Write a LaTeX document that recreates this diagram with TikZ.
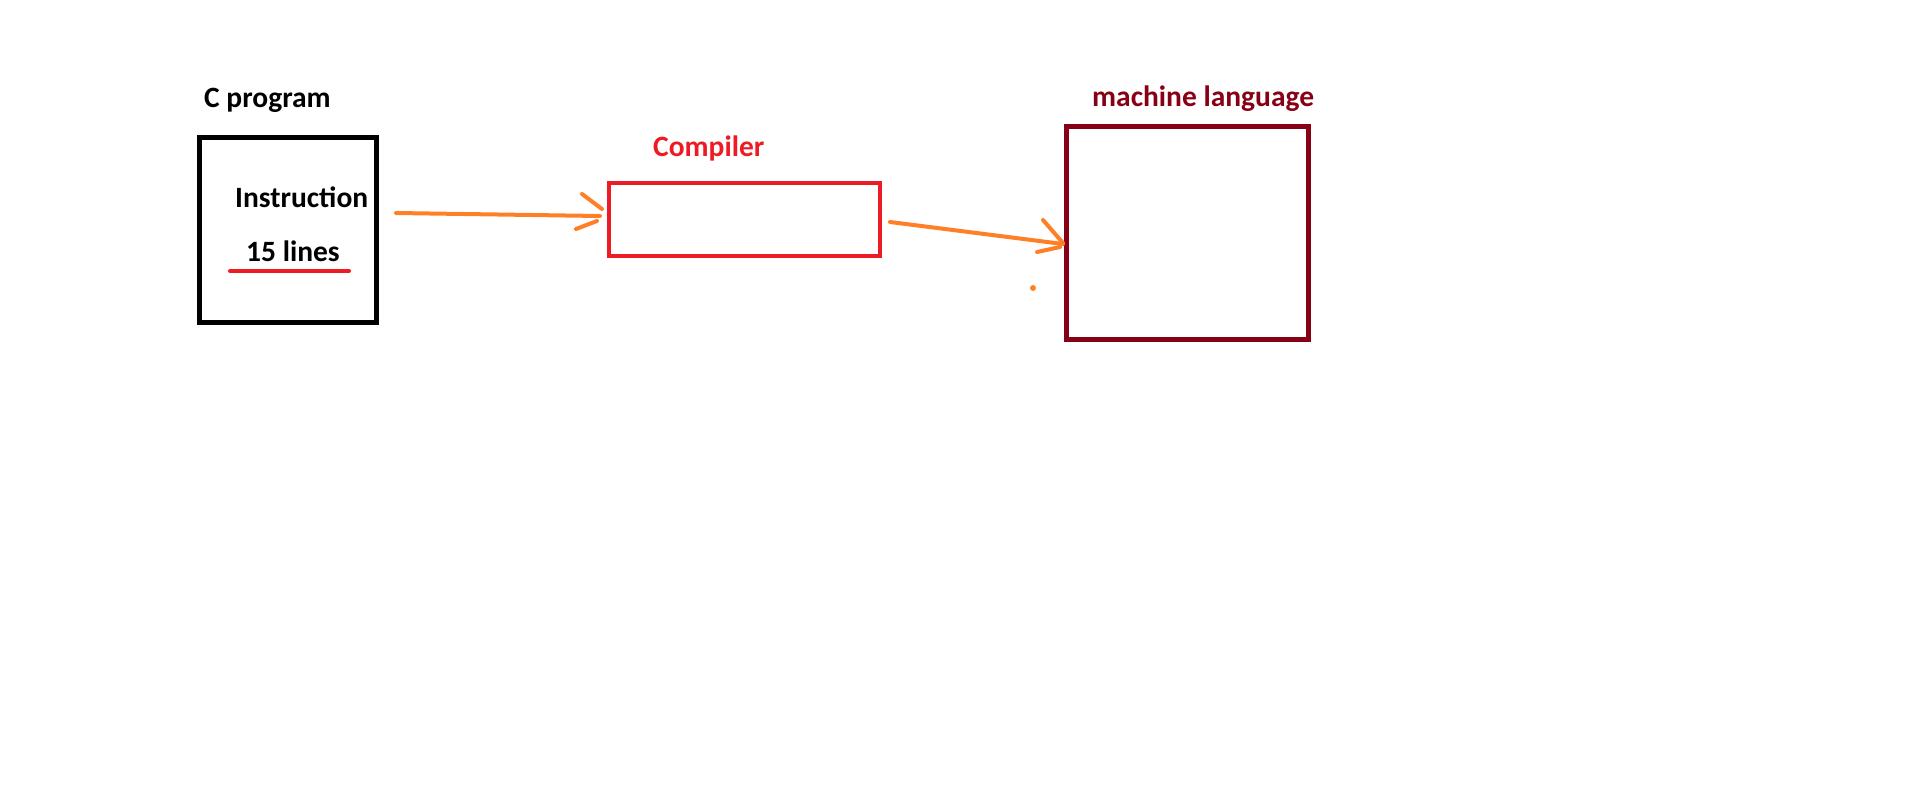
\documentclass[tikz,border=0pt]{standalone}
\usepackage{fontspec}
\setmainfont{Carlito}
\definecolor{porange}{HTML}{FF7F27}
\definecolor{pred}{HTML}{ED1C24}
\definecolor{pmaroon}{HTML}{880015}
\begin{document}
\begin{tikzpicture}[x=1pt,y=-1pt,
  lbl/.style={font=\bfseries\fontsize{29.5}{34}\selectfont, inner sep=0, anchor=base west},
  boxnode/.style={inner sep=0, outer sep=0},
  arr/.style={draw=porange, line width=4pt, line cap=round}]
\useasboundingbox (0,0) rectangle (1914,809);
% boxes
\node[boxnode, draw=black, line width=5pt, minimum width=177pt, minimum height=185pt] (cprog) at (287.5,229.5) {};
\node[boxnode, draw=pred, line width=4pt, minimum width=271pt, minimum height=73pt] (compiler) at (744.5,219.5) {};
\node[boxnode, draw=pmaroon, line width=5pt, minimum width=242pt, minimum height=213pt] (machine) at (1187,232.5) {};
% labels
\node[lbl, text=black] (tc) at (204,107) {C program};
\node[lbl, text=black] (ti) at (235,207) {Instruction};
\node[lbl, text=black] (tl) at (246,261) {15 lines};
\node[lbl, text=pred] (tco) at (653,156) {Compiler};
\node[lbl, text=pmaroon] (tm) at (1092,106) {machine language};
% underline
\coordinate (u1) at (230,271);
\coordinate (u2) at (349,271);
\draw[draw=pred, line width=4pt, line cap=round] (u1) -- (u2);
% arrow 1
\coordinate (a1s) at (396,213);
\coordinate (a1e) at (600,216);
\coordinate (h1a) at (582,194);
\coordinate (h1b) at (602,209);
\coordinate (h1c) at (576,229);
\coordinate (h1d) at (597,221);
\draw[arr] (a1s) -- (a1e);
\draw[arr] (h1a) -- (h1b);
\draw[arr] (h1c) -- (h1d);
% arrow 2
\coordinate (a2s) at (890,222);
\coordinate (a2e) at (1063,244);
\coordinate (h2a) at (1043,220);
\coordinate (h2b) at (1063,243);
\coordinate (h2c) at (1037,252);
\coordinate (h2d) at (1060,247);
\draw[arr] (a2s) -- (a2e);
\draw[arr] (h2a) -- (h2b);
\draw[arr] (h2c) -- (h2d);
% stray dot
\coordinate (dot) at (1033,288);
\fill[porange] (dot) circle (3pt);
\end{tikzpicture}
\end{document}
